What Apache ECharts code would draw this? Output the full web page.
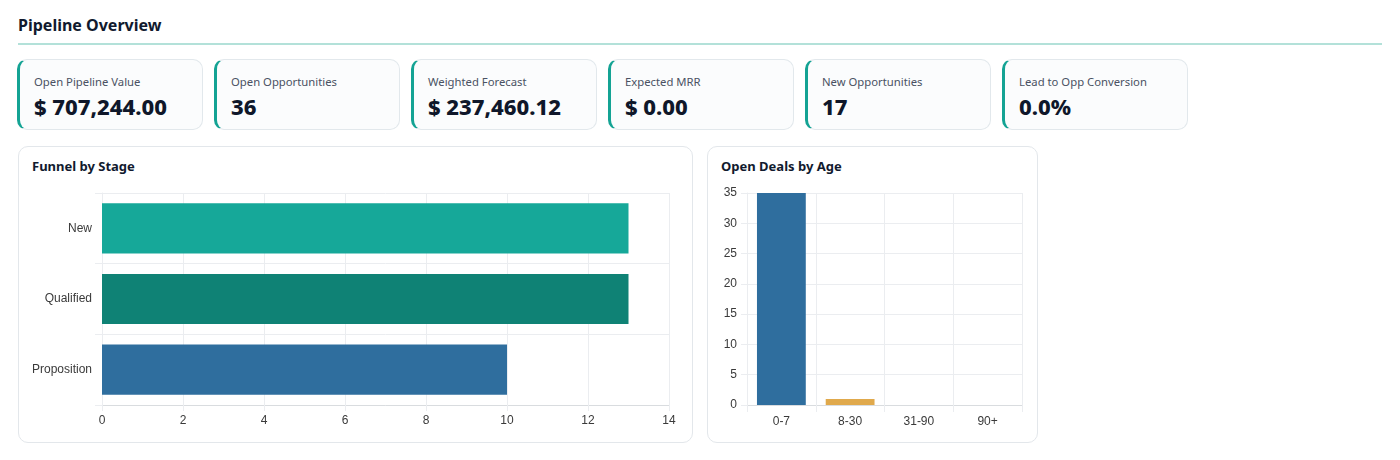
<!DOCTYPE html>
<html>
<head>
<meta charset="utf-8">
<title>Pipeline Overview</title>
<script src="https://cdn.jsdelivr.net/npm/echarts@6/dist/echarts.min.js"></script>
<style>
	body{ margin:0; background:#fff; font-family:"Noto Sans","Open Sans",sans-serif; color:#0f172a; }
	#page{ position:relative; width:1400px; height:460px; overflow:hidden; }
	.title{ position:absolute; left:18px; top:12px; font-size:16px; font-weight:700; line-height:26px; color:#111a2e; }
	.sep{ position:absolute; left:18px; top:43px; width:1364px; height:2px; background:#b3e1d9; }
	.kpi{ position:absolute; top:59px; width:182px; height:69px; box-sizing:content-box; background:#fbfcfd;
		border:1px solid #e2e8ec; border-left:3px solid #14a394; border-radius:10px; }
	.kpi .lbl{ position:absolute; left:14px; top:13px; font-size:11.3px; color:#4a5263; line-height:18px; }
	.kpi .val{ position:absolute; left:14px; top:31px; font-size:22px; font-weight:800; line-height:30px; color:#0f172a; }
	.card{ position:absolute; top:146px; height:295px; border:1px solid #e3e7eb; border-radius:10px; background:#fff; }
	.card .ct{ position:absolute; left:13px; top:9px; font-size:13px; font-weight:700; line-height:20px; color:#111a2e; }
	.chart{ position:absolute; top:146px; height:297px; }
</style>
<script type="text/javascript">
	// kpi strip
	var kpiLabels = ['Open Pipeline Value','Open Opportunities','Weighted Forecast','Expected MRR','New Opportunities','Lead to Opp Conversion'];
	var kpiValues = ['$ 707,244.00','36','$ 237,460.12','$ 0.00','17','0.0%'];

	// funnel by stage
	var stageNames = ['New','Qualified','Proposition'];
	var stageCounts = [13, 13, 10];
	var stageTicks = [0, 2, 4, 6, 8, 10, 12, 14];

	// open deals by age
	var ageBuckets = ['0-7','8-30','31-90','90+'];
	var ageCounts = [35, 1, 0, 0];
	var ageTicks = [0, 5, 10, 15, 20, 25, 30, 35];

	var stageColors = ['#16a899','#0f8275','#2f6e9e'];
	var ageColors = ['#2f6e9e','#e0a94c','#e0a94c','#e0a94c'];

	var gridColor = '#ebedf0';
	var axisColor = '#d9dcdf';
	var labelStyle = { color:'#3a3a3a', fontSize:12, fontFamily:'"Liberation Sans", Arial, sans-serif' };

	function kpiInit(){
		var page = document.getElementById('page');
		for (var i = 0; i < kpiLabels.length; i++){
			var div = document.createElement('div');
			div.className = 'kpi';
			div.style.left = (17 + i * 197) + 'px';
			div.innerHTML = '<div class="lbl">' + kpiLabels[i] + '</div><div class="val">' + kpiValues[i] + '</div>';
			page.appendChild(div);
		}
	}

	function echartInit_funnel(){
		var myChart = echarts.init(document.getElementById('chartFunnel'));
		var data = [];
		for (var i = 0; i < stageCounts.length; i++){
			data.push({ value: stageCounts[i], itemStyle: { color: stageColors[i] } });
		}
		var option = {
			animation: false,
			grid: { left: 84, top: 47, width: 567, height: 212 },
			xAxis: {
				type: 'value',
				min: stageTicks[0],
				max: stageTicks[stageTicks.length - 1],
				interval: stageTicks[1] - stageTicks[0],
				axisLine: { show: true, lineStyle: { color: axisColor } },
				axisTick: { show: true, length: 6, lineStyle: { color: gridColor } },
				axisLabel: Object.assign({ margin: 10 }, labelStyle),
				splitLine: { show: true, lineStyle: { color: gridColor } }
			},
			yAxis: {
				type: 'category',
				inverse: true,
				data: stageNames,
				axisLine: { show: true, lineStyle: { color: gridColor } },
				axisTick: { show: true, length: 7, lineStyle: { color: gridColor } },
				axisLabel: Object.assign({ margin: 10 }, labelStyle),
				splitLine: { show: true, lineStyle: { color: gridColor } }
			},
			series: [{
				type: 'bar',
				barCategoryGap: '29%',
				data: data
			}]
		};
		myChart.setOption(option);
	}

	function echartInit_age(){
		var myChart = echarts.init(document.getElementById('chartAge'));
		var data = [];
		for (var i = 0; i < ageCounts.length; i++){
			data.push({ value: ageCounts[i], itemStyle: { color: ageColors[i] } });
		}
		var option = {
			animation: false,
			grid: { left: 40, top: 47, width: 275, height: 212 },
			xAxis: {
				type: 'category',
				data: ageBuckets,
				axisLine: { show: true, lineStyle: { color: axisColor } },
				axisTick: { show: true, length: 7, lineStyle: { color: gridColor } },
				axisLabel: Object.assign({ margin: 11 }, labelStyle),
				splitLine: { show: true, lineStyle: { color: gridColor } }
			},
			yAxis: {
				type: 'value',
				min: ageTicks[0],
				max: ageTicks[ageTicks.length - 1],
				interval: ageTicks[1] - ageTicks[0],
				axisLine: { show: true, lineStyle: { color: gridColor } },
				axisTick: { show: true, length: 6, lineStyle: { color: gridColor } },
				axisLabel: Object.assign({ margin: 10 }, labelStyle),
				splitLine: { show: true, lineStyle: { color: gridColor } }
			},
			series: [{
				type: 'bar',
				barCategoryGap: '29%',
				data: data
			}]
		};
		myChart.setOption(option);
	}

	window.onload = function(){
		kpiInit();
		echartInit_funnel();
		echartInit_age();
	};
</script>
</head>
<body>
<div id="page">
	<div class="title">Pipeline Overview</div>
	<div class="sep"></div>
	<div class="card" style="left:18px;width:673px;"><div class="ct">Funnel by Stage</div></div>
	<div class="card" style="left:707px;width:329px;"><div class="ct">Open Deals by Age</div></div>
	<div id="chartFunnel" class="chart" style="left:18px;width:675px;"></div>
	<div id="chartAge" class="chart" style="left:707px;width:331px;"></div>
</div>
</body>
</html>
